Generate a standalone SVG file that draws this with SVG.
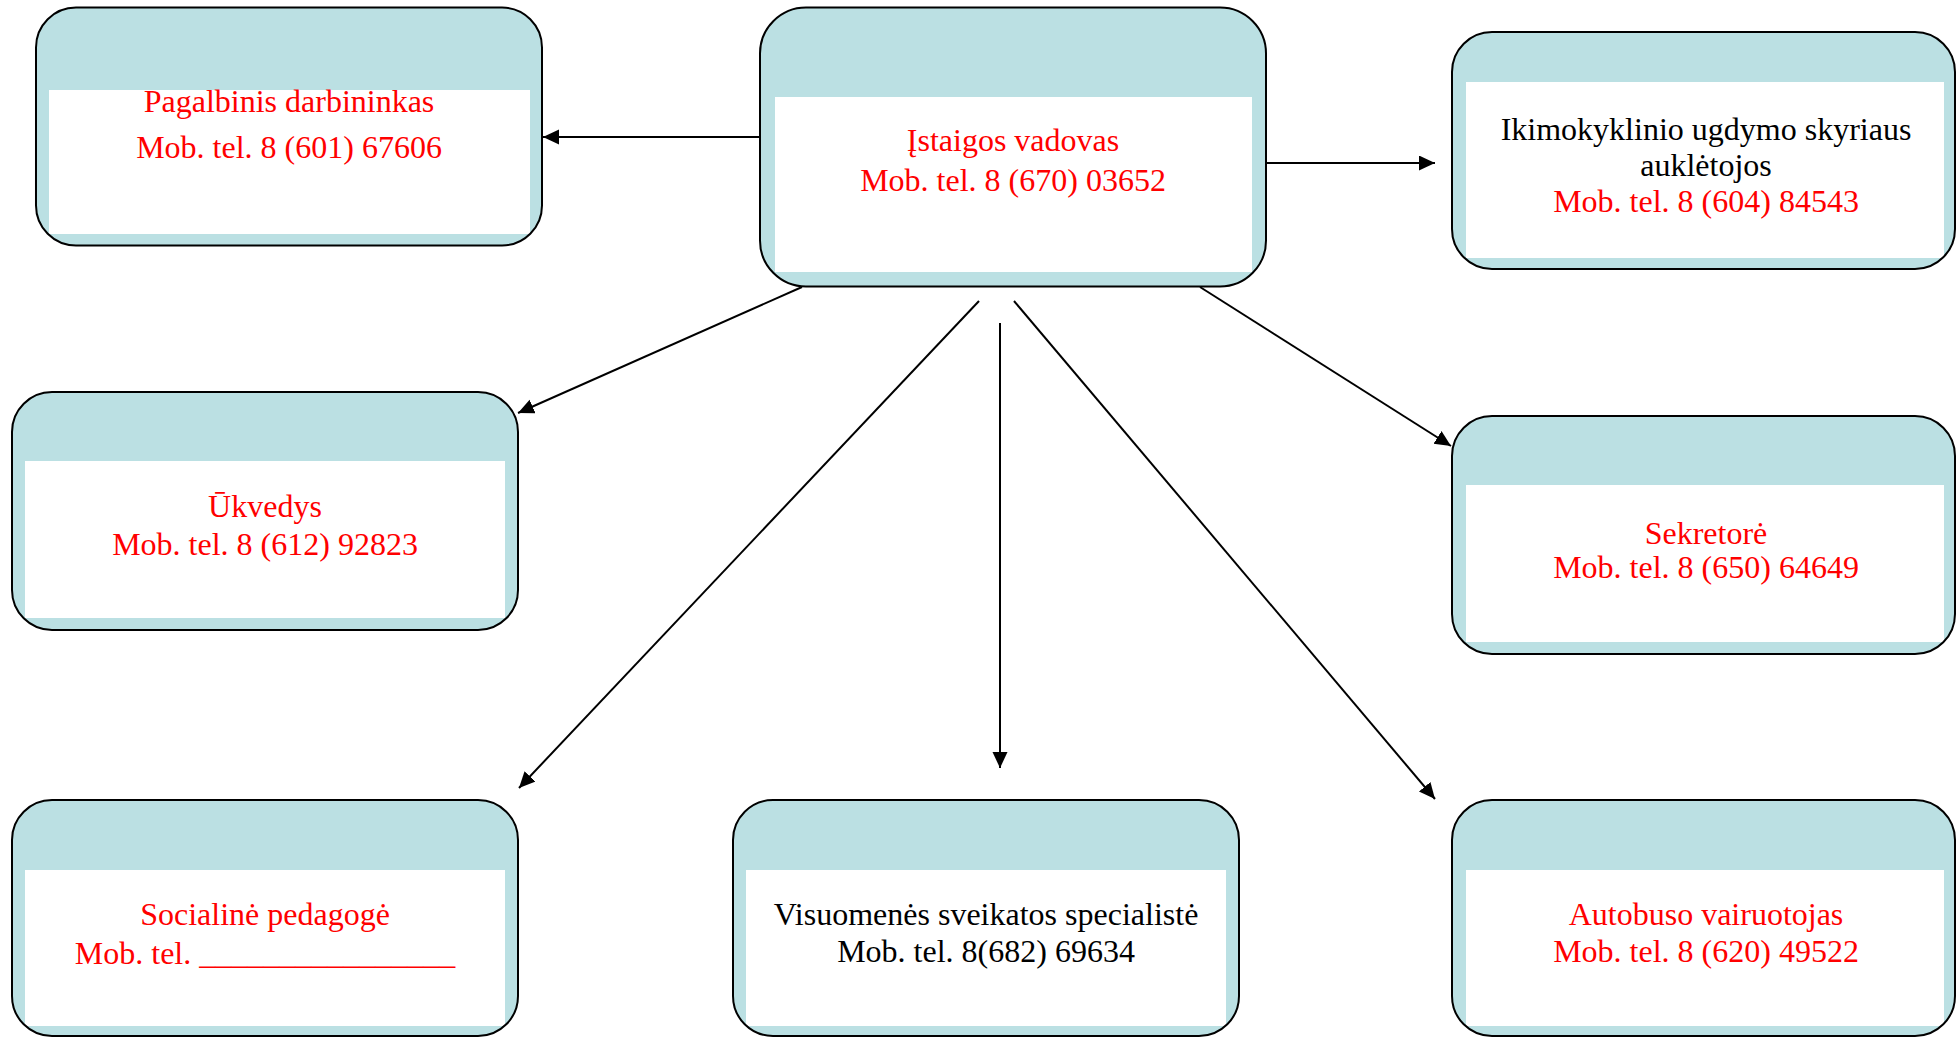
<svg xmlns="http://www.w3.org/2000/svg" width="1957" height="1038" viewBox="0 0 1957 1038">
<style>
.bg{fill:#BBE0E3;stroke:none}
.in{fill:#FFFFFF;stroke:none}
.bd{fill:none;stroke:#000;stroke-width:2}
.t{font-family:"Liberation Serif","Times New Roman",serif;font-size:32px;text-anchor:middle}
.r{fill:#FF0000}
.k{fill:#000000}
.c{stroke:#000;stroke-width:2;fill:none;marker-end:url(#ah)}
</style>
<defs>
<marker id="ah" markerUnits="userSpaceOnUse" markerWidth="17" markerHeight="16" refX="16" refY="7.5" orient="auto">
<path d="M0,0 L16,7.5 L0,15 Z" fill="#000"/>
</marker>
</defs>
<rect width="1957" height="1038" fill="#FFFFFF"/>
<g id="connectors">
<line class="c" x1="760" y1="137" x2="543" y2="137"/>
<line class="c" x1="1266" y1="163" x2="1435" y2="163"/>
<line class="c" x1="802" y1="287" x2="518" y2="413"/>
<line class="c" x1="979" y1="301" x2="519" y2="788"/>
<line class="c" x1="1000" y1="323" x2="1000" y2="768"/>
<line class="c" x1="1014" y1="301" x2="1435" y2="799"/>
<line class="c" x1="1200" y1="287" x2="1451" y2="446"/>
</g>
<g id="pagalbinis">
<rect class="bg" x="36" y="7.5" width="506" height="238" rx="40"/>
<rect class="in" x="49" y="90" width="481" height="144"/>
<rect class="bd" x="36" y="7.5" width="506" height="238" rx="40"/>
<text class="t r" x="289" y="112">Pagalbinis darbininkas</text>
<text class="t r" x="289" y="158">Mob. tel. 8 (601) 67606</text>
</g>
<g id="vadovas">
<rect class="bg" x="760" y="7.5" width="506" height="279" rx="46"/>
<rect class="in" x="775" y="97" width="477" height="175"/>
<rect class="bd" x="760" y="7.5" width="506" height="279" rx="46"/>
<text class="t r" x="1013" y="151">Įstaigos vadovas</text>
<text class="t r" x="1013" y="191">Mob. tel. 8 (670) 03652</text>
</g>
<g id="aukletojos">
<rect class="bg" x="1452" y="32" width="503" height="237" rx="40"/>
<rect class="in" x="1466" y="82" width="478" height="176"/>
<rect class="bd" x="1452" y="32" width="503" height="237" rx="40"/>
<text class="t k" x="1706" y="140">Ikimokyklinio ugdymo skyriaus</text>
<text class="t k" x="1706" y="176">auklėtojos</text>
<text class="t r" x="1706" y="212">Mob. tel. 8 (604) 84543</text>
</g>
<g id="ukvedys">
<rect class="bg" x="12" y="392" width="506" height="238" rx="40"/>
<rect class="in" x="25" y="461" width="480" height="157"/>
<rect class="bd" x="12" y="392" width="506" height="238" rx="40"/>
<text class="t r" x="265" y="517">Ūkvedys</text>
<text class="t r" x="265" y="555">Mob. tel. 8 (612) 92823</text>
</g>
<g id="sekretore">
<rect class="bg" x="1452" y="416" width="503" height="238" rx="40"/>
<rect class="in" x="1466" y="485" width="478" height="157"/>
<rect class="bd" x="1452" y="416" width="503" height="238" rx="40"/>
<text class="t r" x="1706" y="544">Sekretorė</text>
<text class="t r" x="1706" y="578">Mob. tel. 8 (650) 64649</text>
</g>
<g id="socialine">
<rect class="bg" x="12" y="800" width="506" height="236" rx="40"/>
<rect class="in" x="25" y="870" width="480" height="156"/>
<rect class="bd" x="12" y="800" width="506" height="236" rx="40"/>
<text class="t r" x="265" y="925">Socialinė pedagogė</text>
<text class="t r" x="265" y="964">Mob. tel. ________________</text>
</g>
<g id="visuomenes">
<rect class="bg" x="733" y="800" width="506" height="236" rx="40"/>
<rect class="in" x="746" y="870" width="480" height="156"/>
<rect class="bd" x="733" y="800" width="506" height="236" rx="40"/>
<text class="t k" x="986" y="925">Visuomenės sveikatos specialistė</text>
<text class="t k" x="986" y="962">Mob. tel. 8(682) 69634</text>
</g>
<g id="autobuso">
<rect class="bg" x="1452" y="800" width="503" height="236" rx="40"/>
<rect class="in" x="1466" y="870" width="478" height="156"/>
<rect class="bd" x="1452" y="800" width="503" height="236" rx="40"/>
<text class="t r" x="1706" y="925">Autobuso vairuotojas</text>
<text class="t r" x="1706" y="962">Mob. tel. 8 (620) 49522</text>
</g>
</svg>
